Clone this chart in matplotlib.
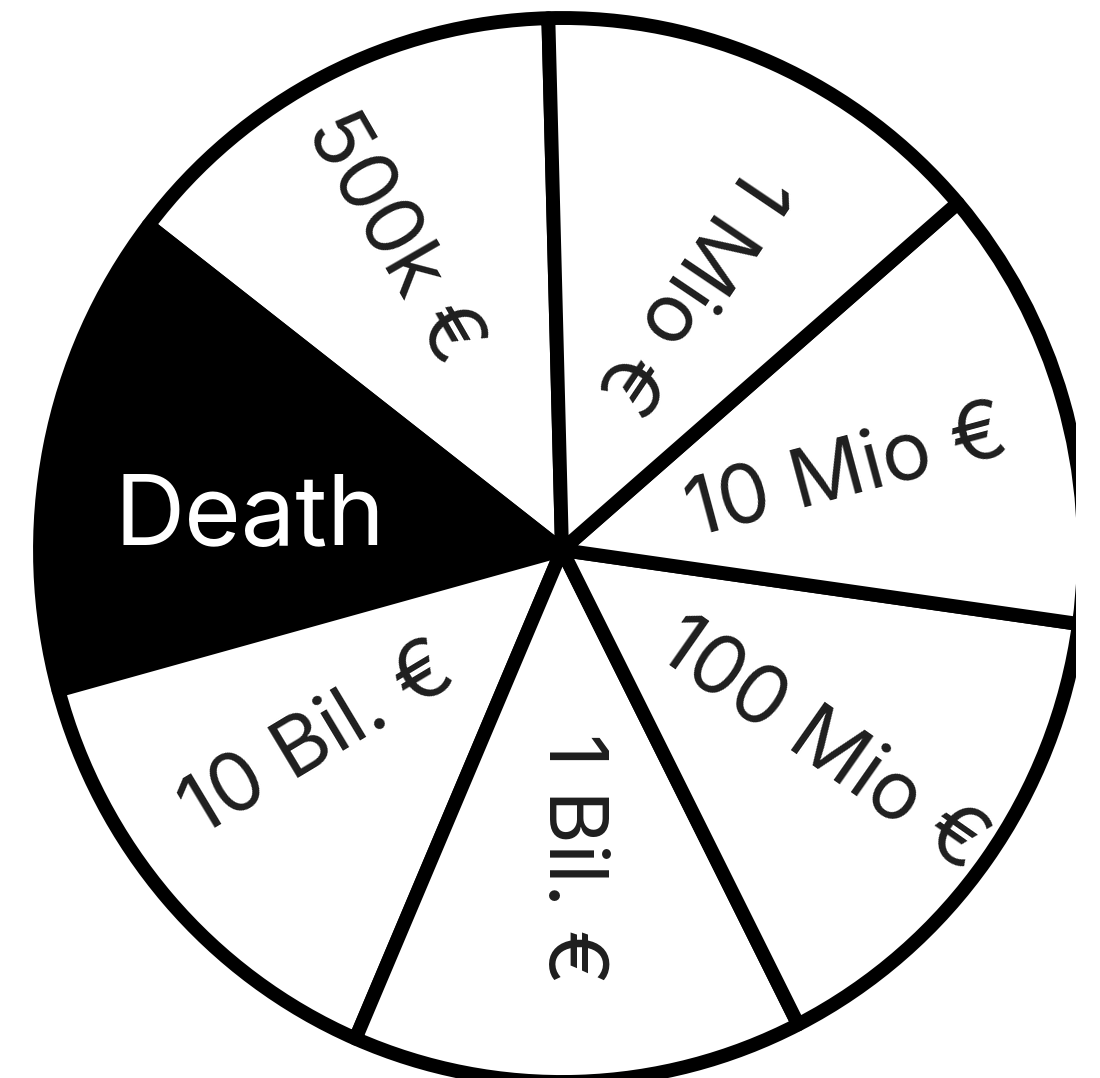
import numpy as np
import matplotlib
matplotlib.use('Agg')
import matplotlib.pyplot as plt

# wheel slices, counter-clockwise from the top spoke
labels = ['500k €', 'Death', '10 Bil. €', '1 Bil. €', '100 Mio €', '10 Mio €', '1 Mio €']
sizes = [50.9, 52.9, 51.4, 50.2, 55.1, 48.7, 50.8]   # degrees
colors = ['white', 'black', 'white', 'white', 'white', 'white', 'white']
text_colors = ['#1e1e1e', 'white', '#1e1e1e', '#1e1e1e', '#1e1e1e', '#1e1e1e', '#1e1e1e']

# label placement (angle in degrees, fraction of radius) and rotation
label_ang = [119, 174.5, 217.6, 271.6, 323.5, 14.6, 63.8]
label_r = [0.67, 0.60, 0.59, 0.58, 0.62, 0.565, 0.55]
label_rot = [-60, 0, 31, -90, -35, 15, 236]
label_fs = [59, 70, 59, 59, 59, 59, 59]

fig = plt.figure(figsize=(11, 10.78), dpi=100)
fig.patch.set_facecolor('white')
ax = fig.add_axes([0, 0, 1, 1])

wedges, _ = ax.pie(sizes, startangle=91.5, counterclock=True, colors=colors,
                   wedgeprops=dict(edgecolor='black', linewidth=10, joinstyle='round'))
ax.set_aspect('auto')

# centre at (562, 550) px, radius about 522 px wide / 532 px tall
ax.set_xlim(-562 / 522, (1100 - 562) / 522)
ax.set_ylim(-(1078 - 550) / 532, 550 / 532)
ax.axis('off')

for i, lab in enumerate(labels):
    a = np.radians(label_ang[i])
    ax.text(label_r[i] * np.cos(a), label_r[i] * np.sin(a), lab,
            rotation=label_rot[i], rotation_mode='anchor',
            ha='center', va='center', color=text_colors[i],
            fontsize=label_fs[i], family=['Inter', 'DejaVu Sans'])

# the reference image is cropped a little at the right edge
fig.patches.append(plt.Rectangle((1076 / 1100, 0), 1, 1, transform=fig.transFigure,
                                 facecolor='white', edgecolor='none', zorder=10))

fig.savefig('out.png', dpi=100, facecolor='white')
